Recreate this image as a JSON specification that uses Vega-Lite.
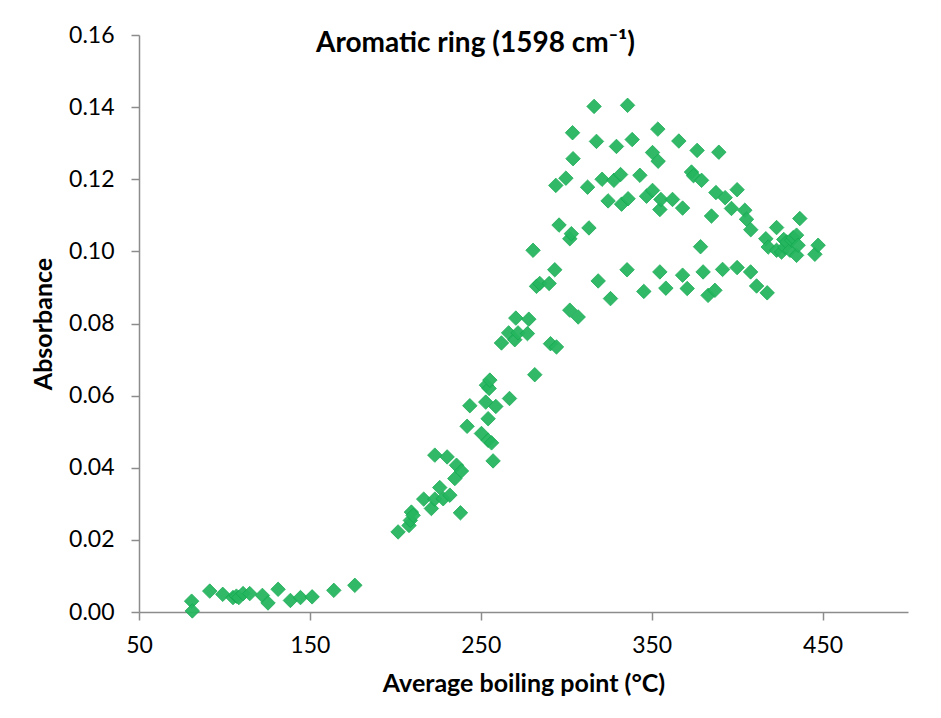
{
  "$schema": "https://vega.github.io/schema/vega-lite/v6.json",
  "width": 769,
  "height": 577,
  "autosize": {"type": "none"},
  "padding": {"left": 139, "top": 35, "right": 33, "bottom": 106},
  "background": "white",
  "title": {
    "text": "Aromatic ring (1598 cm⁻¹)",
    "font": "Lato",
    "fontSize": 28,
    "fontWeight": "bold",
    "color": "#000000",
    "anchor": "middle",
    "frame": "group",
    "dx": -48,
    "baseline": "alphabetic",
    "offset": -56
  },
  "config": {
    "view": {"stroke": null},
    "axis": {
      "grid": false,
      "labelFlush": false,
      "domainColor": "#8c8c8c",
      "domainWidth": 1.5,
      "tickColor": "#8c8c8c",
      "tickWidth": 1.5,
      "tickSize": 8,
      "labelFont": "Lato",
      "labelFontSize": 23,
      "labelColor": "#000000",
      "titleFont": "Lato",
      "titleFontSize": 25,
      "titleFontWeight": "bold",
      "titleColor": "#000000"
    }
  },
  "data": {
    "values": [
      {"bp": 80.8, "abs": 0.0030}, {"bp": 81.2, "abs": 0.0003}, {"bp": 91.4, "abs": 0.0058},
      {"bp": 99.0, "abs": 0.0049}, {"bp": 105.0, "abs": 0.0040}, {"bp": 107.0, "abs": 0.0044},
      {"bp": 108.4, "abs": 0.0040}, {"bp": 110.9, "abs": 0.0051}, {"bp": 114.8, "abs": 0.0051},
      {"bp": 122.2, "abs": 0.0046}, {"bp": 125.5, "abs": 0.0025}, {"bp": 131.4, "abs": 0.0063},
      {"bp": 138.6, "abs": 0.0032}, {"bp": 144.5, "abs": 0.0040}, {"bp": 151.3, "abs": 0.0042},
      {"bp": 164.0, "abs": 0.0060}, {"bp": 176.3, "abs": 0.0074},
      {"bp": 201.6, "abs": 0.0222}, {"bp": 208.0, "abs": 0.0240}, {"bp": 208.8, "abs": 0.0254},
      {"bp": 209.4, "abs": 0.0277}, {"bp": 210.4, "abs": 0.0268}, {"bp": 216.6, "abs": 0.0313},
      {"bp": 221.1, "abs": 0.0287}, {"bp": 223.1, "abs": 0.0313}, {"bp": 223.1, "abs": 0.0435},
      {"bp": 226.0, "abs": 0.0345}, {"bp": 228.0, "abs": 0.0314}, {"bp": 230.3, "abs": 0.0430},
      {"bp": 231.9, "abs": 0.0324}, {"bp": 234.8, "abs": 0.0370}, {"bp": 235.8, "abs": 0.0407},
      {"bp": 238.1, "abs": 0.0275}, {"bp": 238.7, "abs": 0.0391}, {"bp": 242.0, "abs": 0.0515},
      {"bp": 243.6, "abs": 0.0572}, {"bp": 250.4, "abs": 0.0495}, {"bp": 252.9, "abs": 0.0582},
      {"bp": 253.3, "abs": 0.0629}, {"bp": 254.3, "abs": 0.0536}, {"bp": 254.3, "abs": 0.0476},
      {"bp": 254.9, "abs": 0.0620}, {"bp": 255.3, "abs": 0.0643}, {"bp": 256.3, "abs": 0.0469},
      {"bp": 257.2, "abs": 0.0419}, {"bp": 258.8, "abs": 0.0570}, {"bp": 262.1, "abs": 0.0746},
      {"bp": 266.3, "abs": 0.0774}, {"bp": 266.8, "abs": 0.0592}, {"bp": 269.9, "abs": 0.0755},
      {"bp": 270.5, "abs": 0.0815}, {"bp": 271.8, "abs": 0.0774}, {"bp": 277.3, "abs": 0.0772},
      {"bp": 278.1, "abs": 0.0812}, {"bp": 280.6, "abs": 0.1003}, {"bp": 281.6, "abs": 0.0658},
      {"bp": 282.6, "abs": 0.0903}, {"bp": 284.5, "abs": 0.0911}, {"bp": 290.0, "abs": 0.0911},
      {"bp": 290.8, "abs": 0.0744}, {"bp": 293.3, "abs": 0.0949}, {"bp": 294.3, "abs": 0.0735},
      {"bp": 293.9, "abs": 0.1183}, {"bp": 295.8, "abs": 0.1073}, {"bp": 299.8, "abs": 0.1203},
      {"bp": 302.1, "abs": 0.1035}, {"bp": 302.1, "abs": 0.0837}, {"bp": 303.0, "abs": 0.1049},
      {"bp": 303.7, "abs": 0.1329}, {"bp": 304.0, "abs": 0.1257}, {"bp": 307.0, "abs": 0.0818},
      {"bp": 312.5, "abs": 0.1178}, {"bp": 313.3, "abs": 0.1065}, {"bp": 316.3, "abs": 0.1402},
      {"bp": 317.7, "abs": 0.1305}, {"bp": 318.7, "abs": 0.0918}, {"bp": 321.0, "abs": 0.1200},
      {"bp": 324.5, "abs": 0.1140}, {"bp": 325.9, "abs": 0.0869}, {"bp": 327.9, "abs": 0.1197},
      {"bp": 329.4, "abs": 0.1291}, {"bp": 331.8, "abs": 0.1213}, {"bp": 332.4, "abs": 0.1131},
      {"bp": 335.6, "abs": 0.0949}, {"bp": 335.9, "abs": 0.1405}, {"bp": 336.2, "abs": 0.1146},
      {"bp": 338.6, "abs": 0.1310}, {"bp": 343.1, "abs": 0.1211}, {"bp": 345.4, "abs": 0.0889},
      {"bp": 347.0, "abs": 0.1153}, {"bp": 350.5, "abs": 0.1169}, {"bp": 350.5, "abs": 0.1274},
      {"bp": 353.6, "abs": 0.1339}, {"bp": 353.8, "abs": 0.1250}, {"bp": 354.8, "abs": 0.1116},
      {"bp": 354.8, "abs": 0.0943}, {"bp": 355.4, "abs": 0.1144}, {"bp": 358.3, "abs": 0.0898},
      {"bp": 362.2, "abs": 0.1144}, {"bp": 365.9, "abs": 0.1306}, {"bp": 368.1, "abs": 0.1120},
      {"bp": 368.1, "abs": 0.0934}, {"bp": 370.8, "abs": 0.0897}, {"bp": 373.3, "abs": 0.1220},
      {"bp": 374.5, "abs": 0.1210}, {"bp": 376.6, "abs": 0.1280}, {"bp": 379.2, "abs": 0.1197},
      {"bp": 378.6, "abs": 0.1013}, {"bp": 380.1, "abs": 0.0943}, {"bp": 383.0, "abs": 0.0878},
      {"bp": 385.0, "abs": 0.1098}, {"bp": 387.0, "abs": 0.0892}, {"bp": 387.6, "abs": 0.1163},
      {"bp": 389.3, "abs": 0.1275}, {"bp": 391.5, "abs": 0.0950}, {"bp": 393.0, "abs": 0.1149},
      {"bp": 396.7, "abs": 0.1119}, {"bp": 400.0, "abs": 0.1171}, {"bp": 400.0, "abs": 0.0955},
      {"bp": 404.5, "abs": 0.1114}, {"bp": 405.5, "abs": 0.1089}, {"bp": 407.9, "abs": 0.0943},
      {"bp": 408.0, "abs": 0.1060}, {"bp": 411.4, "abs": 0.0904}, {"bp": 416.8, "abs": 0.1035},
      {"bp": 417.6, "abs": 0.0885}, {"bp": 418.2, "abs": 0.1012}, {"bp": 423.1, "abs": 0.1066},
      {"bp": 423.1, "abs": 0.1003}, {"bp": 426.0, "abs": 0.0998}, {"bp": 427.3, "abs": 0.1033},
      {"bp": 427.9, "abs": 0.1012}, {"bp": 429.0, "abs": 0.1026}, {"bp": 430.9, "abs": 0.1003},
      {"bp": 431.9, "abs": 0.1031}, {"bp": 432.8, "abs": 0.1038}, {"bp": 434.8, "abs": 0.1045},
      {"bp": 434.8, "abs": 0.0989}, {"bp": 435.7, "abs": 0.1017}, {"bp": 436.7, "abs": 0.1091},
      {"bp": 445.5, "abs": 0.0992}, {"bp": 447.4, "abs": 0.1017}
    ]
  },
  "mark": {
    "type": "point",
    "shape": "diamond",
    "filled": true,
    "size": 210,
    "fill": "#26b660",
    "stroke": "#13a84f",
    "strokeWidth": 0.8,
    "opacity": 0.95
  },
  "encoding": {
    "x": {
      "field": "bp",
      "type": "quantitative",
      "title": "Average boiling point (°C)",
      "scale": {"domain": [50, 500], "nice": false, "zero": false},
      "axis": {"values": [50, 150, 250, 350, 450], "labelPadding": 14, "titlePadding": 14}
    },
    "y": {
      "field": "abs",
      "type": "quantitative",
      "title": "Absorbance",
      "scale": {"domain": [0, 0.16], "nice": false},
      "axis": {"values": [0, 0.02, 0.04, 0.06, 0.08, 0.1, 0.12, 0.14, 0.16], "format": ".2f", "labelPadding": 17, "titlePadding": 12}
    }
  }
}
